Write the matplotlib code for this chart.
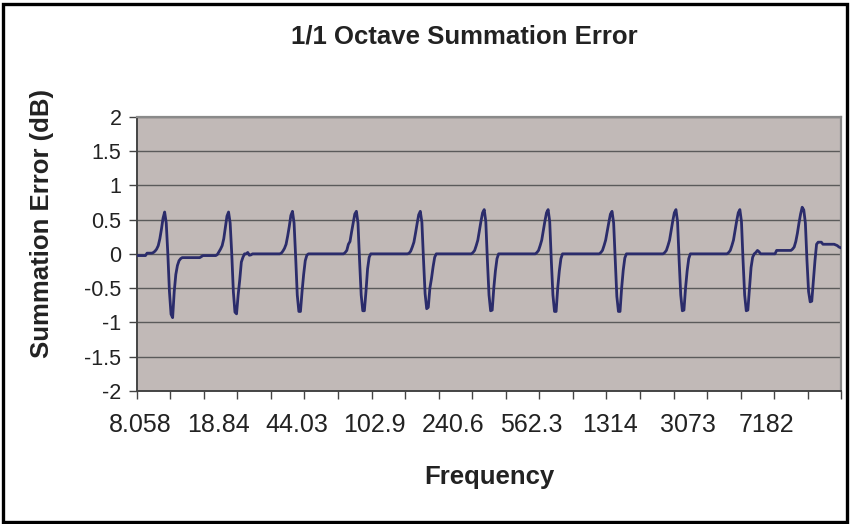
import matplotlib
matplotlib.use("Agg")
import matplotlib.pyplot as plt
from matplotlib.patches import Rectangle

plt.rcParams["font.family"] = ["Liberation Sans", "DejaVu Sans"]
plt.rcParams["axes.unicode_minus"] = False

# Summation error (dB), 40 points per octave from 8.058 Hz upward.
# One list per octave, each holding one band-edge ripple.
oct_01 = [-0.025, -0.025, -0.025, -0.025, -0.025, -0.025, 0.01, 0.01, 0.01, 0.01,
          0.02, 0.04, 0.07, 0.12, 0.22, 0.36, 0.52, 0.61, 0.45, 0.0,
          -0.55, -0.88, -0.93, -0.55, -0.3, -0.17, -0.1, -0.07, -0.055, -0.055,
          -0.055, -0.055, -0.055, -0.055, -0.055, -0.055, -0.055, -0.055, -0.055, -0.055]
oct_02 = [-0.04, -0.025, -0.025, -0.025, -0.025, -0.025, -0.025, -0.025, -0.025, -0.025,
          -0.01, 0.03, 0.07, 0.12, 0.22, 0.38, 0.55, 0.61, 0.45, 0.0,
          -0.55, -0.85, -0.875, -0.6, -0.38, -0.12, -0.05, 0.0, 0.0, 0.02,
          -0.02, -0.015, 0.0, 0.0, 0.0, 0.0, 0.0, 0.0, 0.0, 0.0]
oct_03 = [0.0, 0.0, 0.0, 0.0, 0.0, 0.0, 0.0, 0.0, 0.0, 0.0,
          0.01, 0.04, 0.08, 0.14, 0.26, 0.4, 0.56, 0.62, 0.45, -0.05,
          -0.6, -0.84, -0.84, -0.55, -0.3, -0.1, -0.02, 0.0, 0.0, 0.0,
          0.0, 0.0, 0.0, 0.0, 0.0, 0.0, 0.0, 0.0, 0.0, 0.0]
oct_04 = [0.0, 0.0, 0.0, 0.0, 0.0, 0.0, 0.0, 0.0, 0.0, 0.0,
          0.02, 0.05, 0.14, 0.18, 0.32, 0.45, 0.58, 0.62, 0.45, -0.1,
          -0.6, -0.83, -0.83, -0.55, -0.22, -0.05, 0.0, 0.0, 0.0, 0.0,
          0.0, 0.0, 0.0, 0.0, 0.0, 0.0, 0.0, 0.0, 0.0, 0.0]
oct_05 = [0.0, 0.0, 0.0, 0.0, 0.0, 0.0, 0.0, 0.0, 0.0, 0.0,
          0.01, 0.04, 0.1, 0.17, 0.3, 0.44, 0.57, 0.62, 0.46, -0.08,
          -0.58, -0.8, -0.78, -0.5, -0.36, -0.19, -0.05, 0.0, 0.0, 0.0,
          0.0, 0.0, 0.0, 0.0, 0.0, 0.0, 0.0, 0.0, 0.0, 0.0]
oct_06 = [0.0, 0.0, 0.0, 0.0, 0.0, 0.0, 0.0, 0.0, 0.0, 0.0,
          0.02, 0.05, 0.12, 0.2, 0.34, 0.48, 0.6, 0.645, 0.47, -0.1,
          -0.6, -0.83, -0.82, -0.5, -0.25, -0.07, 0.0, 0.0, 0.0, 0.0,
          0.0, 0.0, 0.0, 0.0, 0.0, 0.0, 0.0, 0.0, 0.0, 0.0]
oct_07 = [0.0, 0.0, 0.0, 0.0, 0.0, 0.0, 0.0, 0.0, 0.0, 0.0,
          0.02, 0.05, 0.12, 0.2, 0.34, 0.48, 0.6, 0.645, 0.47, -0.1,
          -0.6, -0.84, -0.84, -0.5, -0.25, -0.07, 0.0, 0.0, 0.0, 0.0,
          0.0, 0.0, 0.0, 0.0, 0.0, 0.0, 0.0, 0.0, 0.0, 0.0]
oct_08 = [0.0, 0.0, 0.0, 0.0, 0.0, 0.0, 0.0, 0.0, 0.0, 0.0,
          0.02, 0.05, 0.12, 0.2, 0.33, 0.46, 0.58, 0.62, 0.45, -0.1,
          -0.62, -0.84, -0.84, -0.5, -0.24, -0.06, 0.0, 0.0, 0.0, 0.0,
          0.0, 0.0, 0.0, 0.0, 0.0, 0.0, 0.0, 0.0, 0.0, 0.0]
oct_09 = [0.0, 0.0, 0.0, 0.0, 0.0, 0.0, 0.0, 0.0, 0.0, 0.0,
          0.02, 0.05, 0.12, 0.2, 0.34, 0.48, 0.6, 0.645, 0.47, -0.1,
          -0.6, -0.83, -0.82, -0.5, -0.25, -0.07, 0.0, 0.0, 0.0, 0.0,
          0.0, 0.0, 0.0, 0.0, 0.0, 0.0, 0.0, 0.0, 0.0, 0.0]
oct_10 = [0.0, 0.0, 0.0, 0.0, 0.0, 0.0, 0.0, 0.0, 0.0, 0.0,
          0.02, 0.05, 0.12, 0.2, 0.34, 0.48, 0.6, 0.645, 0.47, -0.1,
          -0.6, -0.83, -0.82, -0.51, -0.2, -0.05, 0.0, 0.02, 0.05, 0.03,
          0.0, 0.0, 0.0, 0.0, 0.0, 0.0, 0.0, 0.0, 0.0, 0.0]
oct_11 = [0.05, 0.05, 0.05, 0.05, 0.05, 0.05, 0.05, 0.05, 0.05, 0.05,
          0.07, 0.1, 0.18, 0.3, 0.45, 0.58, 0.68, 0.64, 0.45, -0.1,
          -0.55, -0.7, -0.69, -0.4, -0.1, 0.14, 0.17, 0.17, 0.17, 0.14,
          0.14, 0.14, 0.14, 0.14, 0.14, 0.14, 0.14, 0.13, 0.12, 0.1]
last_point = [0.09]

err = (oct_01 + oct_02 + oct_03 + oct_04 + oct_05 + oct_06 + oct_07 + oct_08
       + oct_09 + oct_10 + oct_11 + last_point)

freq_labels = ["8.058", "18.84", "44.03", "102.9", "240.6", "562.3", "1314", "3073", "7182"]
label_every = 49
tick_every = 21
y_ticks = [-2, -1.5, -1, -0.5, 0, 0.5, 1, 1.5, 2]
y_labels = ["-2", "-1.5", "-1", "-0.5", "0", "0.5", "1", "1.5", "2"]

navy = "#2b2c6b"
plot_bg = "#c1b9b7"
grid_c = "#5a5a5a"
text_c = "#222222"

fig = plt.figure(figsize=(8.5, 5.24), dpi=100)
fig.patch.set_facecolor("white")
ax = fig.add_axes([0.1608, 0.2538, 0.829, 0.5235])
ax.set_facecolor(plot_bg)

n = len(err)
ax.plot(range(n), err, color=navy, lw=2.0, solid_joinstyle="round", zorder=3)

ax.set_xlim(-0.5, n - 0.5)
ax.set_ylim(-2, 2)

# tick marks on category boundaries, labels on category centres
ax.set_xticks([k - 0.5 for k in range(0, n + 1, tick_every)])
ax.set_xticklabels([])
ax.set_xticks([k * label_every + 1.5 for k in range(len(freq_labels))], minor=True)
ax.set_xticklabels(freq_labels, minor=True)
ax.tick_params(axis="x", which="major", direction="out", length=6, width=1,
               color="#444444")
ax.tick_params(axis="x", which="minor", length=0, pad=16, labelsize=18,
               labelcolor=text_c)

ax.set_yticks(y_ticks)
ax.set_yticklabels(y_labels)
ax.tick_params(axis="y", direction="out", length=6, width=1, color="#444444",
               pad=5, labelsize=15.5, labelcolor=text_c)

for v in y_ticks:
    ax.axhline(v, color=grid_c, lw=1.0, zorder=1)

for side in ("top", "right"):
    ax.spines[side].set_color("#8a8a8a")
    ax.spines[side].set_linewidth(1.6)
for side in ("left", "bottom"):
    ax.spines[side].set_color("#444444")
    ax.spines[side].set_linewidth(1.4)

fig.text(464 / 850, 1 - 37 / 524, "1/1 Octave Summation Error", ha="center",
         va="center", fontsize=18.5, fontweight="bold", color=text_c)
fig.text(42 / 850, 1 - 223 / 524, "Summation Error (dB)", ha="center",
         va="center", rotation=90, fontsize=18.5, fontweight="bold", color=text_c)
fig.text(489 / 850, 1 - 477 / 524, "Frequency", ha="center", va="center",
         fontsize=18.5, fontweight="bold", color=text_c)

# black frame round the whole chart
fig.patches.append(Rectangle((0.003, 0.004), 0.994, 0.988, transform=fig.transFigure,
                             fill=False, edgecolor="black", lw=2.4))

fig.savefig("out.png", dpi=100)
